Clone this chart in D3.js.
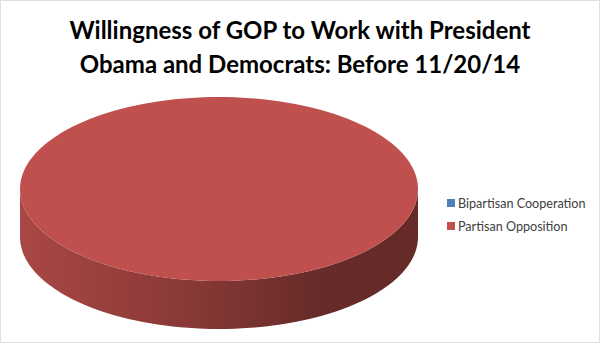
<!DOCTYPE html>
<meta charset="utf-8">
<script src="https://d3js.org/d3.v7.min.js"></script>
<style>
  body { margin: 0; background: #fff; }
</style>
<div id="chart"></div>
<script>

// data
var titleLines = ["Willingness of GOP to Work with President", "Obama and Democrats: Before 11/20/14"];
var categories = ["Bipartisan Cooperation", "Partisan Opposition"];
var values = [0, 100];
var colors = ["#4F81BD", "#C0504D"];

var width = 600, height = 343;

var svg = d3.select("#chart").append("svg")
    .attr("width", width)
    .attr("height", height);

// light frame like the original picture
svg.append("rect")
    .attr("x", 0.5).attr("y", 0.5)
    .attr("width", width - 1).attr("height", height - 1)
    .attr("fill", "#fff")
    .attr("stroke", "#e0e0e0");

// title
svg.append("text")
    .attr("x", 300)
    .attr("text-anchor", "middle")
    .style("font-family", "Lato, 'Open Sans', sans-serif")
    .style("font-weight", "bold")
    .style("font-size", "24px")
    .attr("fill", "#000")
  .selectAll("tspan")
  .data(titleLines)
  .join("tspan")
    .attr("x", 300)
    .attr("y", function(d, i) { return 39 + i * 34; })
    .text(function(d) { return d; });

// 3D pie geometry
var cx = 219, cy = 189, rx = 199, ry = 92, depth = 48;

var pie = d3.pie().sort(null).startAngle(0).endAngle(2 * Math.PI);
var arcs = pie(values);

function pt(t, dy) {
  return [cx + rx * Math.sin(t), cy - ry * Math.cos(t) + (dy || 0)];
}

var defs = svg.append("defs");
colors.forEach(function(c, i) {
  var base = d3.color(c);
  var g = defs.append("linearGradient")
      .attr("id", "side" + i)
      .attr("gradientUnits", "userSpaceOnUse")
      .attr("x1", cx - rx).attr("x2", cx + rx)
      .attr("y1", 0).attr("y2", 0);
  g.append("stop").attr("offset", "0%").attr("stop-color", base.darker(0.35));
  g.append("stop").attr("offset", "45%").attr("stop-color", base.darker(1.0));
  g.append("stop").attr("offset", "75%").attr("stop-color", base.darker(1.75));
  g.append("stop").attr("offset", "100%").attr("stop-color", base.darker(1.8));
});

function sidePath(d) {
  // only the front half of the ellipse (pi/2 .. 3pi/2) is visible
  var a0 = Math.max(d.startAngle, Math.PI / 2);
  var a1 = Math.min(d.endAngle, 3 * Math.PI / 2);
  if (a1 <= a0) return null;
  var n = 80, top = [], bot = [];
  for (var k = 0; k <= n; k++) {
    var t = a0 + (a1 - a0) * k / n;
    top.push(pt(t));
    bot.push(pt(t, depth));
  }
  return d3.line()(top.concat(bot.reverse())) + "Z";
}

function topPath(d) {
  if (d.endAngle - d.startAngle <= 0) return null;
  var n = 160, p = [];
  var full = d.endAngle - d.startAngle >= 2 * Math.PI - 1e-6;
  if (!full) p.push([cx, cy]);
  for (var k = 0; k <= n; k++) {
    p.push(pt(d.startAngle + (d.endAngle - d.startAngle) * k / n));
  }
  return d3.line()(p) + "Z";
}

svg.append("g").selectAll("path")
  .data(arcs)
  .join("path")
    .attr("d", sidePath)
    .attr("fill", function(d, i) { return "url(#side" + i + ")"; });

svg.append("g").selectAll("path")
  .data(arcs)
  .join("path")
    .attr("d", topPath)
    .attr("fill", function(d, i) { return colors[i]; });

// legend
var legend = svg.append("g").selectAll("g")
  .data(categories)
  .join("g")
    .attr("transform", function(d, i) { return "translate(447," + (199 + i * 23) + ")"; });

legend.append("rect")
    .attr("width", 8).attr("height", 8)
    .attr("fill", function(d, i) { return colors[i]; });

legend.append("text")
    .attr("x", 11)
    .attr("y", 8.5)
    .style("font-family", "Lato, 'Open Sans', sans-serif")
    .style("font-size", "12.6px")
    .attr("fill", "#404040")
    .text(function(d) { return d; });

</script>
